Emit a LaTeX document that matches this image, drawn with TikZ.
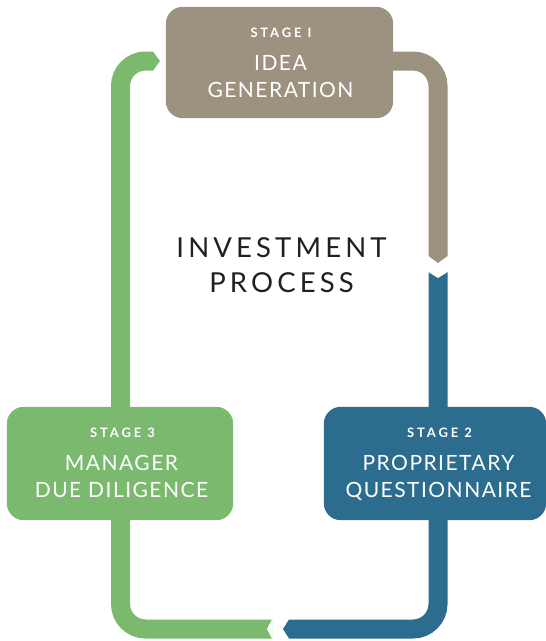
\documentclass[tikz,border=0pt]{standalone}
\usepackage{fontspec}
\setmainfont{Lato}
\newfontfamily\stagefont{Lato}[LetterSpace=22]
\newfontfamily\titlefont{Lato}[LetterSpace=7]
\newfontfamily\centerfont{Lato}[LetterSpace=15]
\usetikzlibrary{calc}

\definecolor{stoneC}{HTML}{9D917F}
\definecolor{tealC}{HTML}{2C6C8E}
\definecolor{leafC}{HTML}{7AB96E}
\definecolor{inkC}{HTML}{231F20}

\tikzset{
  band/.style={line width=19pt, line cap=butt, rounded corners=25pt},
  stagebox/.style={rounded corners=17pt, inner sep=0pt},
  stagetag/.style={text=white, anchor=base, inner sep=0pt,
    font=\stagefont\bfseries\fontsize{13}{15}\selectfont},
  stagename/.style={text=white, anchor=base, inner sep=0pt,
    font=\titlefont\fontsize{21}{25}\selectfont},
  centertext/.style={text=inkC, anchor=base, inner sep=0pt,
    font=\centerfont\fontsize{27.5}{32}\selectfont}
}

\begin{document}
\begin{tikzpicture}[x=1pt, y=-1pt]
\useasboundingbox (0,0) rectangle (546,641);

% stage box outlines (named first so the bands can refer to them)
\node[minimum width=227pt, minimum height=111pt, inner sep=0pt] (s1) at (279.5,62.5) {};
\node[minimum width=222pt, minimum height=113pt, inner sep=0pt] (s2) at (435,463.5) {};
\node[minimum width=226pt, minimum height=113pt, inner sep=0pt] (s3) at (120,463.5) {};

% junctions between the coloured bands
\coordinate (j12) at (438,263);   % stage 1 -> stage 2 arrow point
\coordinate (j23) at (283,629);   % stage 2 -> stage 3 arrow point
\coordinate (j31) at (160,61);    % stage 3 -> stage 1 arrow point

% stage 1 -> stage 2 (stone band with pointed end)
\draw[band, stoneC] ($(s1.east)+(-10,-1.5)$) -| ($(j12)+(0,-7)$);
\fill[stoneC] ($(j12)+(-9.5,-7)$) -- (j12) -- ($(j12)+(9.5,-7)$) -- cycle;

% stage 2 -> stage 3 (teal band, notched start, pointed end)
\draw[band, tealC] ($(j12)+(0,9)$) -- (s2.north -| j12)
  (s2.south -| j12) |- ($(j23)+(6,0)$);
\fill[white] ($(j12)+(-10,8.8)$) -- ($(j12)+(0,15)$) -- ($(j12)+(10,8.8)$) -- cycle;
\fill[tealC] ($(j23)+(6,-9.5)$) -- (j23) -- ($(j23)+(6,9.5)$) -- cycle;

% stage 3 -> stage 1 (leaf band, notched start, pointed end)
\draw[band, leafC] ($(j23)+(-11,0)$) -| (s3.south -| 120.5,0)
  (s3.north -| 120.5,0) |- ($(j31)+(-7,0)$);
\fill[white] ($(j23)+(-10.8,-10)$) -- ($(j23)+(-16,0)$) -- ($(j23)+(-10.8,10)$) -- cycle;
\fill[leafC] ($(j31)+(-7,-9.5)$) -- (j31) -- ($(j31)+(-7,9.5)$) -- cycle;

% box faces
\fill[stoneC, stagebox] (s1.north west) rectangle (s1.south east);
\fill[tealC, stagebox] (s2.north west) rectangle (s2.south east);
\fill[leafC, stagebox] (s3.north west) rectangle (s3.south east);

% stage 1 text
\node[stagetag] (t1) at (281,37) {STAGE I};
\node[stagename] (n1a) at (280.5,70) {IDEA};
\node[stagename] (n1b) at (280.5,97) {GENERATION};

% stage 2 text
\node[stagetag] (t2) at (439.5,437) {STAGE 2};
\node[stagename] (n2a) at (438.5,470) {PROPRIETARY};
\node[stagename] (n2b) at (438.5,497) {QUESTIONNAIRE};

% stage 3 text
\node[stagetag] (t3) at (122.5,437) {STAGE 3};
\node[stagename] (n3a) at (121.5,470) {MANAGER};
\node[stagename] (n3b) at (121.5,497) {DUE DILIGENCE};

% centre title
\node[centertext] (c1) at (281.5,257) {INVESTMENT};
\node[centertext] (c2) at (281.5,292) {PROCESS};
\end{tikzpicture}
\end{document}
